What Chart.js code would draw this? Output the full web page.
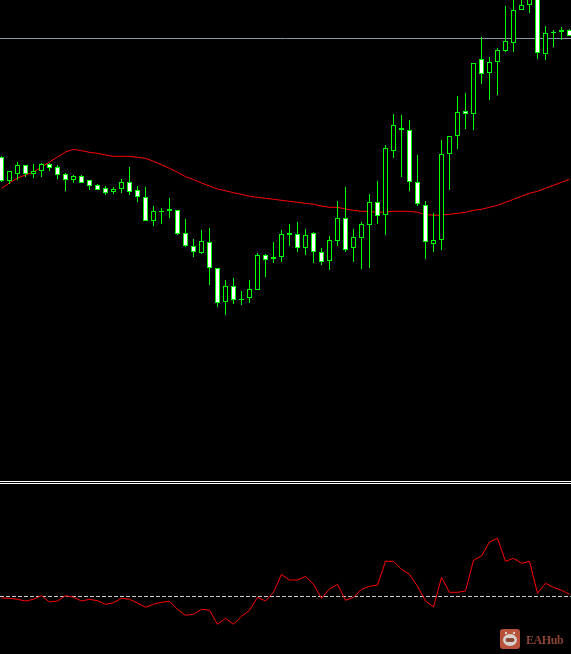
<!DOCTYPE html>
<html>
<head>
<meta charset="utf-8">
<title>Candles</title>
<script src="https://cdn.jsdelivr.net/npm/chart.js@4/dist/chart.umd.js"></script>
<style>
    html, body { margin: 0; padding: 0; background: #000; overflow: hidden; }
    #page { position: relative; width: 571px; height: 654px; background: #000; }
    canvas { position: absolute; left: 0; display: block; }
    #priceChart { top: 0; }
    #oscChart { top: 485px; }
    .rule { position: absolute; left: 0; width: 571px; height: 1px; background: #fff; }
    #logo { position: absolute; left: 500px; top: 629px; }
    #brand { position: absolute; left: 526px; top: 633px; color: #8a4534; font: bold 12px "Liberation Serif", serif; letter-spacing: -0.4px; }
</style>
</head>
<body>
<div id="page">
    <canvas id="priceChart" width="571" height="481"></canvas>
    <div class="rule" style="top: 481px"></div>
    <div class="rule" style="top: 483px"></div>
    <canvas id="oscChart" width="571" height="169"></canvas>
    <svg id="logo" width="20" height="20" viewBox="0 0 20 20">
        <rect width="20" height="20" rx="3" fill="#b8503a"/>
        <circle cx="6" cy="4" r="1.2" fill="#d8d0cc"/>
        <circle cx="14" cy="4" r="1.2" fill="#d8d0cc"/>
        <ellipse cx="10" cy="11" rx="7" ry="6" fill="#d8d0cc"/>
        <rect x="5.5" y="9" width="9" height="4" rx="2" fill="#8a4534"/>
    </svg>
    <div id="brand">EAHub</div>
</div>
<script>
// Values. Price panel is in points, oscillator is around its zero level
const opens = [324, 300, 307, 316, 307, 310, 317, 314, 307, 301, 305, 301, 296, 293, 289, 292, 299, 291,
    284, 260, 270, 272, 271, 248, 235, 228, 239, 213, 179, 195, 182, 183, 191, 226, 222, 224, 248, 247,
    233, 248, 229, 220, 240, 263, 233, 243, 256, 279, 266, 330, 353, 351, 299, 276, 237, 241, 327, 345,
    370, 367, 422, 408, 419, 430, 438, 471, 476, 485, 427, 449, 449, 451];
const closes = [300, 310, 316, 307, 310, 317, 313, 306, 301, 305, 298, 295, 291, 288, 292, 299, 289, 284,
    260, 270, 269, 270, 247, 235, 229, 240, 213, 178, 195, 181, 181, 192, 226, 221, 224, 247, 246, 233,
    246, 229, 219, 241, 263, 231, 244, 257, 279, 265, 333, 356, 351, 299, 277, 239, 241, 327, 345, 369,
    367, 418, 407, 419, 431, 440, 471, 476, 485, 428, 448, 448, 451, 445];
const highs = [325, 310, 319, 316, 317, 318, 318, 316, 308, 306, 306, 301, 297, 295, 294, 302, 314, 295,
    294, 275, 273, 283, 271, 262, 242, 251, 253, 213, 201, 203, 190, 201, 228, 227, 239, 251, 257, 259,
    252, 249, 233, 245, 280, 294, 252, 259, 287, 300, 336, 367, 366, 361, 326, 280, 268, 341, 345, 385,
    388, 418, 444, 424, 433, 475, 487, 487, 487, 487, 455, 451, 454, 452];
const lows = [299, 297, 301, 304, 303, 304, 310, 302, 290, 298, 298, 291, 291, 286, 287, 288, 286, 279,
    260, 255, 257, 263, 246, 234, 224, 227, 196, 174, 166, 177, 176, 178, 191, 204, 218, 219, 235, 229,
    226, 218, 216, 211, 235, 229, 219, 212, 213, 257, 246, 323, 304, 290, 275, 222, 229, 231, 291, 332,
    352, 351, 397, 381, 386, 429, 429, 471, 468, 422, 421, 434, 441, 445];
const movingAvg = [292.7, 298, 303, 306, 309, 314, 319, 324, 329, 331.7, 330.3, 328.7, 327.7, 326, 324.7,
    324.7, 324.7, 323.7, 322.7, 319.7, 316.3, 312.7, 308.7, 304.3, 301.5, 298, 295, 292, 290.3, 288.3,
    286.7, 284.7, 283.7, 282.7, 281.7, 280.7, 279.7, 278.7, 277.7, 276.7, 275, 273.7, 273.7, 272, 270.7,
    269.7, 269.7, 268.7, 269, 269.7, 269.7, 269.7, 268.7, 266.7, 265.7, 266, 266.7, 267.7, 268.7, 270.7,
    271.7, 273.7, 275.7, 278.7, 281.7, 284.7, 287.7, 289.7, 292.7, 295.7, 298.7, 301.7];
const oscillator = [-1.5, -1.8, -2.8, -4.5, -2.8, 0.8, -5.5, -4.5, 0.8, -0.8, -4.5, -2.8, -4.2, -7.8, -6.2,
    -1.8, -2.8, -6.5, -10.8, -7.8, -5.8, -4.8, -12.8, -18.8, -17.8, -12.8, -13.8, -27.8, -21.8, -27.8,
    -19.8, -13.8, -0.8, -4.5, 4.2, 22.2, 16.5, 16.5, 20.2, 12.2, -1.8, 7.5, 12.2, -3.8, -0.8, 7.2, 10.2,
    11.5, 35.2, 35.2, 27.2, 22.2, 10.2, -4.5, -10.5, 19.2, 4.2, 4.2, 5.5, 36.2, 40.5, 54.5, 58.2, 35.2,
    38.2, 33.2, 35.2, 3.2, 13.2, 9.2, 6.2, 2.2];
const priceLevel = 442.5;
const oscLevel = 0;

const GREEN = "#00ff00";
const RED = "#ff0000";

// Bars sit 8px apart, first one 1.5px from the left edge
const xRange = { min: -1.5 / 8, max: 569.5 / 8 };

function xyPoints(values) {
    return values.map((v, i) => ({ x: i, y: v }));
}

function levelPoints(value) {
    return [{ x: xRange.min, y: value }, { x: xRange.max, y: value }];
}

function baseOptions(yMin, yMax) {
    return {
        responsive: false,
        animation: false,
        events: [],
        layout: { padding: 0 },
        plugins: { legend: { display: false }, tooltip: { enabled: false } },
        scales: {
            x: { type: "linear", min: xRange.min, max: xRange.max, offset: false, display: false },
            y: { type: "linear", min: yMin, max: yMax, display: false }
        }
    };
}

new Chart(document.getElementById("priceChart"), {
    type: "bar",
    data: {
        datasets: [
            {
                // candle bodies, white when price fell, black when it rose
                data: opens.map((o, i) => ({ x: i, y: [o, closes[i]] })),
                backgroundColor: opens.map((o, i) => (o > closes[i] ? "#ffffff" : "#000000")),
                borderColor: GREEN,
                borderWidth: 1,
                borderSkipped: false,
                inflateAmount: 0,
                barThickness: 5,
                grouped: false,
                order: 1
            },
            {
                // wicks
                data: highs.map((h, i) => ({ x: i, y: [lows[i], h] })),
                backgroundColor: GREEN,
                borderWidth: 0,
                inflateAmount: 0,
                barThickness: 1,
                grouped: false,
                order: 2
            },
            {
                type: "line",
                data: xyPoints(movingAvg),
                borderColor: RED,
                borderWidth: 1,
                pointRadius: 0,
                tension: 0,
                order: 3
            },
            {
                type: "line",
                data: levelPoints(priceLevel),
                borderColor: "#8a94a6",
                borderWidth: 1,
                pointRadius: 0,
                order: 4
            }
        ]
    },
    options: baseOptions(0, 481)
});

new Chart(document.getElementById("oscChart"), {
    type: "line",
    data: {
        datasets: [
            {
                data: xyPoints(oscillator),
                borderColor: RED,
                borderWidth: 1,
                pointRadius: 0,
                tension: 0,
                order: 1
            },
            {
                data: levelPoints(oscLevel),
                borderColor: "#c8c8c8",
                borderWidth: 1,
                borderDash: [4, 2],
                pointRadius: 0,
                order: 2
            }
        ]
    },
    options: baseOptions(-57.5, 111.5)
});
</script>
</body>
</html>
